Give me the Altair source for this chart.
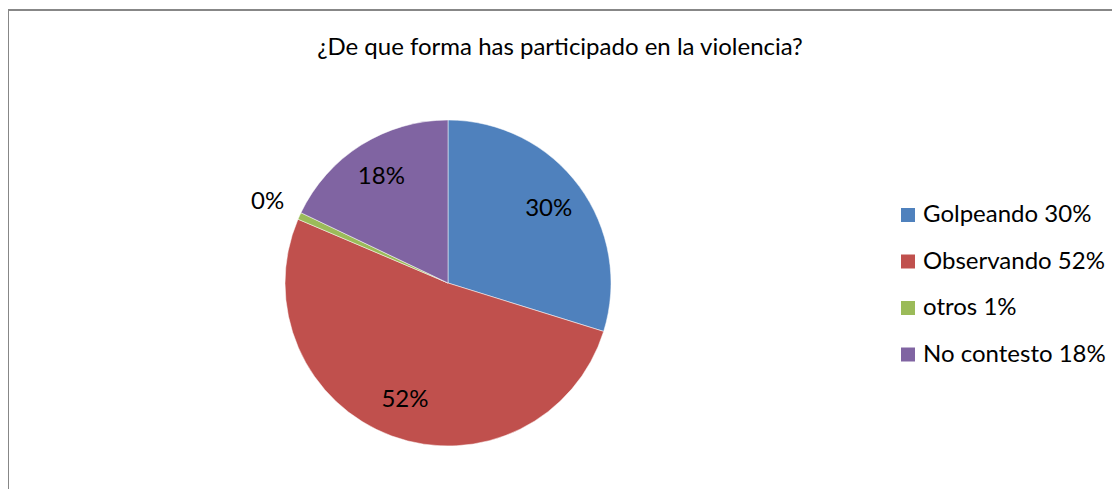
import altair as alt
import pandas as pd

categories = ["Golpeando 30%", "Observando 52%", "otros 1%", "No contesto 18%"]
values = [29.8, 51.6, 0.7, 17.9]
labels = ["30%", "52%", "0%", "18%"]
colors = ["#4F81BD", "#C0504D", "#9BBB59", "#8064A2"]
title_text = "¿De que forma has participado en la violencia?"

df = pd.DataFrame({
    "cat": categories,
    "value": values,
    "label": labels,
    "idx": list(range(len(categories))),
})

FONT = "Lato"
FS = 24
CX, CY, R = 440, 275, 163

base = alt.Chart(df).encode(
    theta=alt.Theta("value:Q", stack=True),
    order=alt.Order("idx:Q"),
)

pie = base.mark_arc(outerRadius=R, stroke="white", strokeWidth=0.5).encode(
    x=alt.value(CX), y=alt.value(CY),
    color=alt.Color(
        "cat:N",
        sort=categories,
        scale=alt.Scale(domain=categories, range=colors),
        legend=alt.Legend(
            title=None, orient="none", legendX=888, legendY=195,
            symbolType="square", symbolSize=196, symbolStrokeWidth=0,
            labelFont=FONT, labelFontSize=FS, labelColor="#000000",
            rowPadding=22.5, labelOffset=3, labelLimit=400,
        ),
    ),
)

text_in = base.transform_calculate(
    t="datum.value >= 5 ? datum.label : ''"
).mark_text(font=FONT, fontSize=FS, color="#000000", radius=125).encode(
    x=alt.value(CX), y=alt.value(CY),
    text="t:N",
)

text_out = base.transform_calculate(
    t="datum.value < 5 ? datum.label : ''"
).mark_text(font=FONT, fontSize=FS, color="#000000", radius=198).encode(
    x=alt.value(CX), y=alt.value(CY),
    text="t:N",
)

top_line = alt.Chart(df).mark_rule(color="#878787", strokeWidth=2).encode(
    x=alt.value(0), x2=alt.value(1104), y=alt.value(2)
)
left_line = alt.Chart(df).mark_rule(color="#878787", strokeWidth=2).encode(
    x=alt.value(0), y=alt.value(2), y2=alt.value(481)
)

chart = alt.layer(pie, text_in, text_out, top_line, left_line).properties(
    width=1104, height=481,
    autosize=alt.AutoSizeParams(type="none"),
    padding=0,
    title=alt.TitleParams(
        title_text, anchor="middle", frame="group", offset=0, dy=71,
        baseline="alphabetic", font=FONT, fontSize=FS, fontWeight="normal",
        color="#000000",
    ),
).configure_view(stroke=None)

chart.save("out.html", embed_options={"renderer": "svg", "actions": False})
